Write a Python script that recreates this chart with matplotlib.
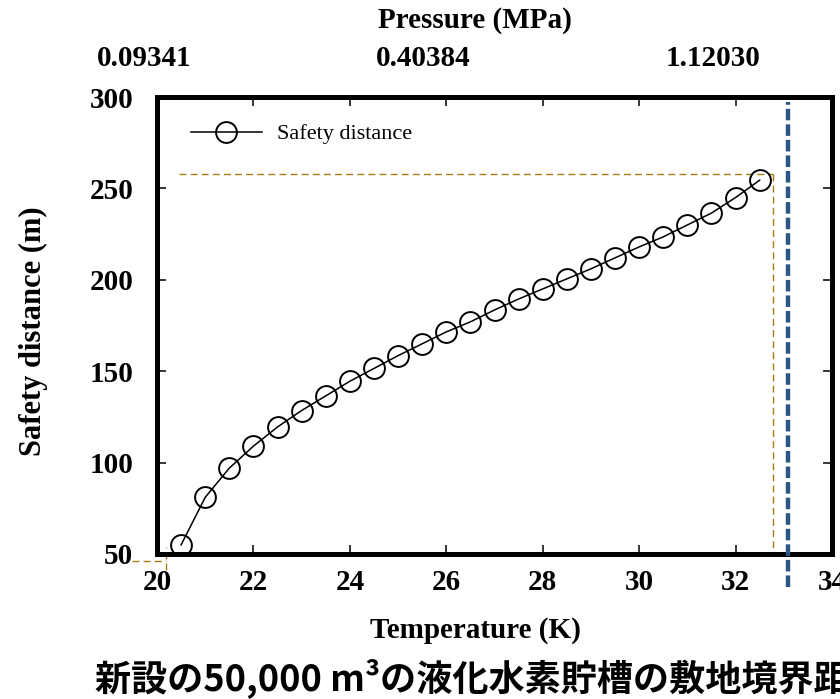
import matplotlib
matplotlib.use('Agg')
import matplotlib.pyplot as plt
import matplotlib.transforms as mtransforms

plt.rcParams['font.family'] = ['Liberation Serif', 'DejaVu Serif']

# temperature (K) vs safety distance (m)
temperature = [20.5, 21.0, 21.5, 22.0, 22.5, 23.0, 23.5, 24.0, 24.5, 25.0,
               25.5, 26.0, 26.5, 27.0, 27.5, 28.0, 28.5, 29.0, 29.5, 30.0,
               30.5, 31.0, 31.5, 32.0, 32.5]
safety_distance = [55.0, 81.0, 97.0, 109.0, 119.5, 128.5, 136.5, 144.5, 151.5, 158.5,
                   165.0, 171.5, 177.0, 183.5, 189.5, 195.0, 200.5, 206.0, 212.0, 218.0,
                   223.5, 230.0, 236.5, 245.0, 254.5]

x_ticks = [20, 22, 24, 26, 28, 30, 32, 34]
y_ticks = [50, 100, 150, 200, 250, 300]

# pressure labels on the top, at these temperatures
pressure_T = [19.73, 25.53, 31.54]
pressure_labels = ['0.09341', '0.40384', '1.12030']

# guide lines
guide_T = 32.77
guide_D = 258.0
guide_T_start = 20.45
critical_T = 33.08
low_T = 20.18
low_D = 46.4

fig = plt.figure(figsize=(8.4, 6.99), dpi=100)
ax = fig.add_axes([157 / 840, 1 - 554 / 699, (832 - 157) / 840, (554 - 97) / 699])

ax.plot(temperature, safety_distance, color='black', lw=1.1, marker='o',
        markersize=15, markerfacecolor='none', markeredgecolor='black',
        markeredgewidth=1.4, label='Safety distance', zorder=3)

gold = '#a67c13'
ax.plot([guide_T_start, guide_T], [guide_D, guide_D], color=gold, lw=1.0,
        dashes=(5, 3), zorder=2)
ax.plot([guide_T, guide_T], [guide_D, 50], color=gold, lw=1.0,
        dashes=(5, 3), zorder=2)
ax.plot([19.48, low_T], [low_D, low_D], color=gold, lw=1.0, dashes=(5, 3),
        clip_on=False, zorder=2)
ax.plot([low_T, low_T], [41, 54], color=gold, lw=1.0, dashes=(5, 3),
        clip_on=False, zorder=2)

ax.plot([critical_T, critical_T], [32, 297], color='#2a5783', lw=3.2,
        dashes=(2.6, 0.9), clip_on=False, zorder=4)

ax.set_xlim(20, 34)
ax.set_ylim(50, 300)
ax.set_xticks(x_ticks)
ax.set_yticks(y_ticks)
ax.tick_params(direction='in', length=6.5, width=1.1, top=True, right=True,
               labelsize=21)
ax.tick_params(axis='y', pad=17)
ax.tick_params(axis='x', pad=11)
for lab in ax.get_xticklabels() + ax.get_yticklabels():
    lab.set_fontweight('bold')
for sp in ax.spines.values():
    sp.set_linewidth(3.6)

leg = ax.legend(loc='upper left', bbox_to_anchor=(0.02, 0.985), frameon=False,
                fontsize=16, handlelength=3.2, handletextpad=0.7)

trans = mtransforms.blended_transform_factory(ax.transData, fig.transFigure)
for t, lab in zip(pressure_T, pressure_labels):
    ax.text(t, 1 - 58 / 699, lab, transform=trans, ha='center', va='center',
            fontsize=21, fontweight='bold')

fig.text(475 / 840, 1 - 20 / 699, 'Pressure (MPa)', ha='center', va='center',
         fontsize=21, fontweight='bold')
fig.text(475 / 840, 1 - 630 / 699, 'Temperature (K)', ha='center', va='center',
         fontsize=21, fontweight='bold')
fig.text(33 / 840, 1 - 331 / 699, 'Safety distance (m)', ha='center', va='center',
         rotation=90, fontsize=22, fontweight='bold')

fig.text(95 / 840, 1 - 678 / 699, '新設の50,000 m³の液化水素貯槽の敷地境界距離',
         ha='left', va='center', fontsize=26, fontweight='bold',
         family=['Noto Sans CJK JP', 'DejaVu Sans'])

fig.savefig('out.png', dpi=100)
